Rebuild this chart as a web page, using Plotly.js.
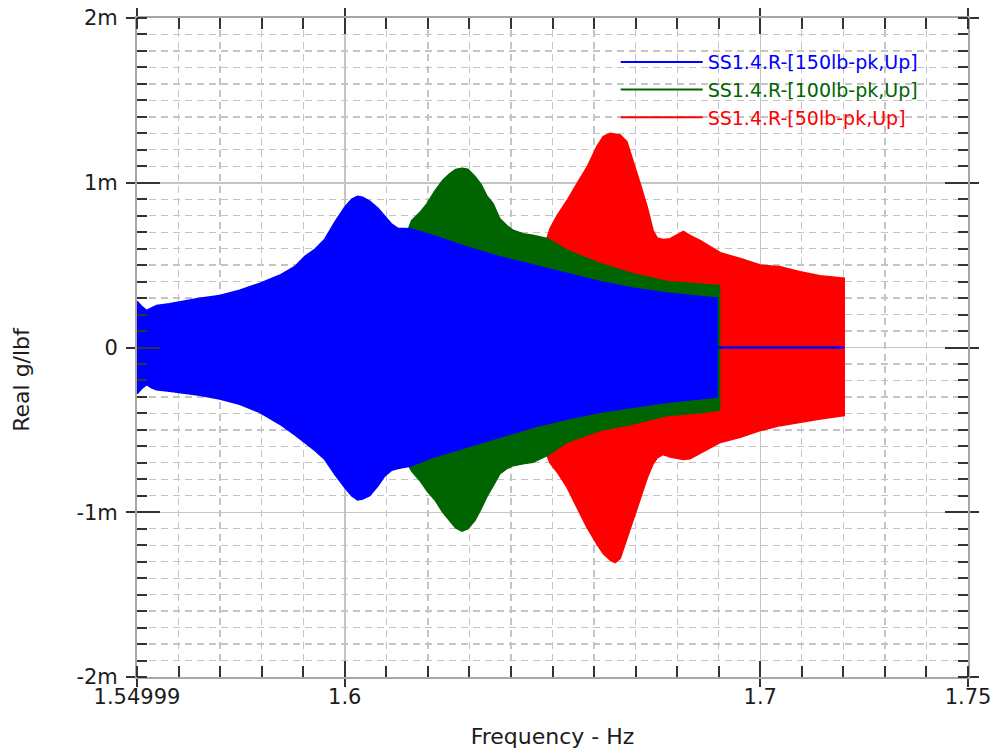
<!DOCTYPE html>
<html>
<head>
<meta charset="utf-8">
<script src="https://cdn.plot.ly/plotly-3.0.1.min.js"></script>
<style>
  html, body { margin: 0; padding: 0; background: #ffffff; }
  #chart { width: 995px; height: 754px; }
</style>
</head>
<body>
<div id="chart"></div>
<script>
// Envelope of each swept-sine response (values in m = 1e-3 g/lbf)

// SS1.4.R-[150lb-pk,Up]
const blueFreq = [1.5500, 1.5511, 1.5523, 1.5535, 1.5547, 1.5578, 1.5602, 1.5651, 1.5699, 1.5747,
                  1.5795, 1.5843, 1.5880, 1.5904, 1.5928, 1.5952, 1.5976, 1.6000, 1.6017, 1.6031,
                  1.6043, 1.6060, 1.6080, 1.6096, 1.6113, 1.6128, 1.6145, 1.6157, 1.6212, 1.6294,
                  1.6373, 1.6453, 1.6535, 1.6614, 1.6694, 1.6776, 1.6855, 1.6896];
const blueUpper = [0.28, 0.25, 0.225, 0.24, 0.255, 0.265, 0.277, 0.298, 0.316, 0.347,
                   0.389, 0.438, 0.492, 0.553, 0.596, 0.657, 0.760, 0.851, 0.900, 0.918,
                   0.912, 0.888, 0.845, 0.796, 0.748, 0.723, 0.723, 0.720, 0.68, 0.61,
                   0.55, 0.50, 0.45, 0.40, 0.36, 0.33, 0.31, 0.30];
const blueLower = [-0.28, -0.25, -0.225, -0.245, -0.257, -0.265, -0.272, -0.29, -0.312, -0.345,
                   -0.393, -0.464, -0.53, -0.575, -0.625, -0.68, -0.77, -0.85, -0.90, -0.925,
                   -0.92, -0.899, -0.84, -0.78, -0.745, -0.735, -0.725, -0.72, -0.666, -0.606,
                   -0.545, -0.484, -0.434, -0.393, -0.363, -0.332, -0.31, -0.30];
// after the sweep stops the 150 lb response sits at zero
const blueTailFreq = [1.6897, 1.7202];
const blueTail = [0, 0];

// SS1.4.R-[100lb-pk,Up]
const greenFreq = [1.6152, 1.6161, 1.6181, 1.6198, 1.6217, 1.6236, 1.6253, 1.6267, 1.6282, 1.6296,
                   1.6313, 1.6328, 1.6342, 1.6357, 1.6373, 1.6390, 1.6405, 1.6429, 1.6453, 1.6487,
                   1.6535, 1.6614, 1.6694, 1.6776, 1.6855, 1.6902];
const greenUpper = [0.71, 0.77, 0.82, 0.873, 0.95, 1.015, 1.055, 1.080, 1.088, 1.082,
                    1.04, 0.99, 0.92, 0.873, 0.782, 0.74, 0.711, 0.69, 0.681, 0.661,
                    0.59, 0.509, 0.448, 0.40, 0.385, 0.375];
const greenLower = [-0.71, -0.75, -0.808, -0.87, -0.925, -1.00, -1.05, -1.095, -1.115, -1.10,
                    -1.05, -0.98, -0.905, -0.84, -0.767, -0.735, -0.717, -0.705, -0.697, -0.656,
                    -0.575, -0.504, -0.464, -0.413, -0.395, -0.38];

// SS1.4.R-[50lb-pk,Up]
const redFreq = [1.6486, 1.6494, 1.6511, 1.6535, 1.6559, 1.6583, 1.6607, 1.6622, 1.6639, 1.6651,
                 1.6663, 1.6679, 1.6694, 1.6711, 1.6728, 1.6742, 1.6752, 1.6766, 1.6783, 1.6800,
                 1.6815, 1.6831, 1.6855, 1.6904, 1.6952, 1.7000, 1.7048, 1.7096, 1.7144, 1.7202];
const redUpper = [0.655, 0.72, 0.80, 0.892, 0.994, 1.094, 1.22, 1.28, 1.30, 1.295,
                  1.29, 1.25, 1.135, 0.994, 0.852, 0.710, 0.665, 0.655, 0.66, 0.685,
                  0.705, 0.68, 0.65, 0.575, 0.54, 0.50, 0.49, 0.46, 0.435, 0.42];
const redLower = [-0.65, -0.70, -0.755, -0.849, -0.970, -1.092, -1.193, -1.25, -1.29, -1.305,
                  -1.28, -1.17, -1.052, -0.92, -0.79, -0.707, -0.67, -0.65, -0.665, -0.675,
                  -0.68, -0.675, -0.64, -0.576, -0.545, -0.504, -0.474, -0.454, -0.433, -0.413];

const seriesNames = ['SS1.4.R-[150lb-pk,Up]', 'SS1.4.R-[100lb-pk,Up]', 'SS1.4.R-[50lb-pk,Up]'];
const seriesColors = ['#0000ff', '#006400', '#ff0000'];

const xTickVals = [1.55, 1.6, 1.7, 1.75];
const xTickText = ['1.54999', '1.6', '1.7', '1.75'];
const yTickVals = [-2, -1, 0, 1, 2];
const yTickText = ['-2m', '-1m', '0', '1m', '2m'];

const FONT = 'DejaVu Sans, Liberation Sans, Arial, sans-serif';
const INK = '#1c1c1c';
const GRID = '#c4c4c4';
const FRAME = '#aaa69c';
const TICK = '#333333';

// closed outline: upper envelope forward, lower envelope back
function envelope(freq, upper, lower, color) {
  const xs = freq.concat(freq.slice().reverse());
  const ys = upper.concat(lower.slice().reverse());
  return {
    type: 'scatter', mode: 'lines', x: xs, y: ys,
    fill: 'toself', fillcolor: color,
    line: {color: color, width: 1.6},
    showlegend: false, hoverinfo: 'skip'
  };
}

function legendEntry(i) {
  return {
    type: 'scatter', mode: 'lines', x: [null], y: [null],
    name: '<span style="color:' + seriesColors[i] + '">' + seriesNames[i] + '</span>',
    line: {color: seriesColors[i], width: 2}
  };
}

const traces = [
  legendEntry(0), legendEntry(1), legendEntry(2),
  envelope(redFreq, redUpper, redLower, seriesColors[2]),
  envelope(greenFreq, greenUpper, greenLower, seriesColors[1]),
  envelope(blueFreq, blueUpper, blueLower, seriesColors[0]),
  {type: 'scatter', mode: 'lines', x: blueTailFreq, y: blueTail,
   line: {color: seriesColors[0], width: 2.5}, showlegend: false, hoverinfo: 'skip'},
  // carrier for the inner halves of the major ticks
  {type: 'scatter', x: [null], y: [null], xaxis: 'x2', yaxis: 'y2', showlegend: false, hoverinfo: 'skip'}
];

const layout = {
  width: 995, height: 754,
  margin: {l: 137, r: 27, t: 18, b: 77, pad: 0},
  paper_bgcolor: '#ffffff', plot_bgcolor: '#ffffff',
  font: {family: FONT, size: 21, color: INK},
  showlegend: true,
  legend: {
    x: 0.576, y: 0.962, xanchor: 'left', yanchor: 'top',
    bgcolor: 'rgba(0,0,0,0)', borderwidth: 0,
    itemwidth: 82, tracegroupgap: 0,
    font: {family: FONT, size: 19}
  },
  xaxis: {
    range: [1.55, 1.75], tickmode: 'array', tickvals: xTickVals, ticktext: xTickText,
    ticks: 'outside', ticklen: 8, tickwidth: 2, tickcolor: TICK, ticklabelstandoff: -8,
    tickfont: {family: FONT, size: 21, color: INK},
    showgrid: true, gridcolor: GRID, gridwidth: 1.5,
    zeroline: false, showline: true, linecolor: FRAME, linewidth: 2, mirror: 'allticks',
    minor: {dtick: 0.01, tick0: 0, ticks: 'inside', ticklen: 11, tickwidth: 2, tickcolor: TICK,
            showgrid: true, gridcolor: GRID, gridwidth: 1.3, griddash: '7px,5px'},
    title: {text: 'Frequency - Hz', font: {family: FONT, size: 22, color: INK}, standoff: 20}
  },
  yaxis: {
    range: [-2, 2], tickmode: 'array', tickvals: yTickVals, ticktext: yTickText,
    ticks: 'outside', ticklen: 9, tickwidth: 2, tickcolor: TICK, ticklabelstandoff: 4,
    tickfont: {family: FONT, size: 21, color: INK},
    showgrid: true, gridcolor: GRID, gridwidth: 1.5,
    zeroline: false, showline: true, linecolor: FRAME, linewidth: 2, mirror: 'allticks',
    minor: {dtick: 0.1, tick0: 0, ticks: 'inside', ticklen: 10, tickwidth: 2, tickcolor: TICK,
            showgrid: true, gridcolor: GRID, gridwidth: 1.3, griddash: '7px,5px'}
  },
  xaxis2: {
    overlaying: 'x', anchor: 'y2', side: 'bottom', range: [1.55, 1.75],
    tickmode: 'array', tickvals: [1.6, 1.7], ticks: 'inside', ticklen: 16, tickwidth: 2,
    tickcolor: TICK, showticklabels: false, showgrid: false, zeroline: false,
    showline: false, mirror: 'ticks'
  },
  yaxis2: {
    overlaying: 'y', anchor: 'x2', side: 'left', range: [-2, 2],
    tickmode: 'array', tickvals: [-1, 0, 1], ticks: 'inside', ticklen: 23, tickwidth: 2,
    tickcolor: TICK, showticklabels: false, showgrid: false, zeroline: false,
    showline: false, mirror: 'ticks'
  },
  annotations: [{
    text: 'Real g/lbf', xref: 'paper', yref: 'paper', x: 0, y: 0.451,
    xanchor: 'center', yanchor: 'middle', xshift: -115, textangle: -90,
    showarrow: false, font: {family: FONT, size: 22, color: INK}
  }]
};

Plotly.newPlot('chart', traces, layout, {displayModeBar: false, staticPlot: true});
</script>
</body>
</html>
